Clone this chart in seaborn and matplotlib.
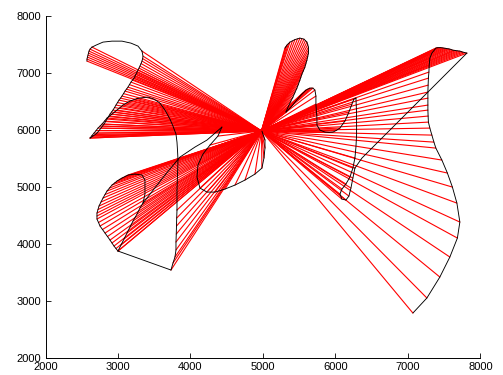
import matplotlib
matplotlib.use("Agg")
import matplotlib.pyplot as plt
import pandas as pd
import seaborn as sns

# common origin of all rays
center_x, center_y = 4980, 5985

# ---- outline pieces (x, y); pieces marked with rays get a red ray per vertex ----
upper_edge_x = [2572, 2572, 2579, 2586, 2593, 2600, 2614, 2641]
upper_edge_y = [7211, 7246, 7281, 7316, 7351, 7386, 7421, 7456]

upper_cap_x = [2641, 2697, 2793, 2917, 3055, 3179, 3276, 3331]
upper_cap_y = [7456, 7491, 7544, 7561, 7561, 7526, 7474, 7386]

upper_side_x = [3331, 3345, 3340, 3331, 3318, 3303, 3290, 3276, 3262, 3248,
                3235, 3221, 3200, 3179, 3158, 3138, 3117, 3097, 3076, 3055,
                3035, 3014, 2993, 2972, 2952, 2931, 2910, 2890, 2869, 2848,
                2828, 2807, 2786, 2765, 2738, 2710, 2683, 2655, 2635, 2614]
upper_side_y = [7386, 7298, 7255, 7211, 7167, 7123, 7088, 7053, 7018, 6982,
                6947, 6912, 6877, 6842, 6798, 6754, 6719, 6684, 6640, 6597,
                6561, 6526, 6483, 6439, 6395, 6351, 6316, 6281, 6237, 6193,
                6149, 6105, 6070, 6035, 5991, 5947, 5921, 5895, 5878, 5860]

arc_low_x = [2614, 2641, 2669, 2697, 2724, 2752, 2779, 2814, 2848, 2883,
             2917, 2952, 2986, 3028, 3069, 3117, 3166, 3214, 3262]
arc_low_y = [5860, 5904, 5947, 5991, 6035, 6070, 6105, 6158, 6211, 6246,
             6281, 6316, 6351, 6395, 6439, 6474, 6509, 6531, 6553]

arc_high_x = [3262, 3345, 3414, 3497, 3579, 3648, 3717, 3759, 3800, 3814, 3821,
              3828, 3821, 3814, 3814]
arc_high_y = [6553, 6570, 6579, 6544, 6474, 6351, 6193, 6070, 5930, 5789, 5649,
              5474, 5211, 4947, 4597]

stem_x = [3814, 3810, 3807, 3804, 3800, 3800, 3786, 3759, 3731]
stem_y = [4597, 4456, 4316, 4175, 4035, 3895, 3772, 3667, 3544]

base_x = [3731, 3000]
base_y = [3544, 3877]

lower_edge_x = [3000, 2972, 2945, 2917, 2890, 2855, 2821, 2786, 2752, 2731,
                2710, 2710, 2710, 2724, 2738, 2765, 2793, 2821, 2848, 2883,
                2917, 2952, 2986, 3020, 3055, 3097, 3138, 3186, 3234]
lower_edge_y = [3877, 3921, 3965, 4018, 4070, 4132, 4193, 4255, 4316, 4378,
                4439, 4492, 4544, 4606, 4667, 4737, 4807, 4869, 4930, 4983,
                5035, 5070, 5105, 5132, 5158, 5185, 5211, 5220, 5228]

lower_cap_x = [3234, 3331, 3372, 3372, 3372, 3345]
lower_cap_y = [5228, 5211, 5123, 5000, 4877, 4719]

spine_low_x = [3000, 3041, 3083, 3124, 3166, 3207, 3262, 3303, 3345]
spine_low_y = [3877, 3982, 4088, 4193, 4298, 4404, 4526, 4632, 4719]

spine_high_x = [3345, 3648, 3855, 4062, 4228, 4434]
spine_high_y = [4719, 5211, 5526, 5702, 5825, 6053]

bulb_x = [4434, 4379, 4269, 4172, 4103, 4090, 4131, 4228, 4338, 4476, 4614, 4752,
          4890, 4986, 5014, 5028, 5028, 4986]
bulb_y = [6053, 5895, 5737, 5579, 5386, 5175, 4982, 4912, 4912, 4965, 5035, 5123,
          5228, 5333, 5509, 5684, 5825, 5982]

tall_x = [5303, 5317, 5331, 5352, 5372, 5407, 5441, 5476, 5510, 5538,
          5566, 5587, 5607, 5618, 5628, 5628, 5628, 5618, 5607, 5593,
          5579, 5559, 5538, 5524, 5510, 5490, 5469, 5441, 5414, 5386,
          5359, 5338, 5317]
tall_y = [7439, 7465, 7491, 7518, 7544, 7566, 7588, 7601, 7614, 7605,
          7596, 7570, 7544, 7500, 7456, 7404, 7351, 7290, 7228, 7167,
          7105, 7044, 6982, 6930, 6877, 6807, 6737, 6658, 6579, 6509,
          6439, 6378, 6316]

loop_x = [5317, 5352, 5386, 5421, 5455, 5490, 5524, 5559, 5593, 5620,
          5648, 5669, 5690, 5717, 5731, 5731, 5738, 5745, 5745, 5786,
          5855, 5910, 5966, 6014, 6062, 6131, 6186, 6228, 6255, 6283]
loop_y = [6316, 6360, 6404, 6456, 6509, 6561, 6614, 6658, 6702, 6720,
          6737, 6737, 6737, 6702, 6597, 6456, 6316, 6211, 6088, 6000,
          5965, 5960, 5965, 5995, 6035, 6158, 6316, 6456, 6544, 6561]

post_x = [6283, 6290, 6292, 6292, 6283, 6269]
post_y = [6561, 6351, 6140, 5912, 5702, 5509]

hook_x = [6269, 6241, 6200, 6145, 6090, 6062, 6090, 6145, 6186, 6214, 6241, 6269]
hook_y = [5509, 5333, 5175, 5053, 4965, 4877, 4789, 4772, 4842, 4982, 5158, 5333]

brace_x = [6269, 6366, 6476, 6614, 7814]
brace_y = [5333, 5509, 5649, 5825, 7351]

wing_x = [7814, 7786, 7759, 7738, 7717, 7690, 7662, 7641, 7621, 7600,
          7579, 7559, 7538, 7517, 7497, 7476, 7455, 7434, 7414, 7400,
          7386, 7359, 7331, 7303, 7294, 7290, 7283, 7279, 7276, 7276,
          7276, 7276, 7279, 7283, 7303, 7331, 7359, 7386, 7469, 7545,
          7614, 7676, 7717, 7683, 7579, 7441, 7262, 7069]
wing_y = [7351, 7360, 7368, 7377, 7386, 7390, 7395, 7399, 7403, 7412,
          7421, 7426, 7430, 7435, 7439, 7443, 7447, 7447, 7447, 7443,
          7439, 7395, 7351, 7263, 7140, 7018, 6912, 6789, 6667, 6561,
          6439, 6351, 6246, 6140, 6035, 5912, 5789, 5684, 5474, 5246,
          5000, 4719, 4386, 4105, 3772, 3421, 3053, 2789]

pieces = [
    (upper_edge_x, upper_edge_y, True),
    (upper_cap_x, upper_cap_y, False),
    (upper_side_x, upper_side_y, True),
    (arc_low_x, arc_low_y, True),
    (arc_high_x, arc_high_y, False),
    (stem_x, stem_y, True),
    (base_x, base_y, False),
    (lower_edge_x, lower_edge_y, True),
    (lower_cap_x, lower_cap_y, False),
    (spine_low_x, spine_low_y, True),
    (spine_high_x, spine_high_y, False),
    (bulb_x, bulb_y, True),
    (tall_x, tall_y, True),
    (loop_x, loop_y, True),
    (post_x, post_y, False),
    (hook_x, hook_y, True),
    (brace_x, brace_y, False),
    (wing_x, wing_y, True),
]

x_ticks = [2000, 3000, 4000, 5000, 6000, 7000, 8000]
y_ticks = [2000, 3000, 4000, 5000, 6000, 7000, 8000]

# long-form tables: one unit per ray, one unit per outline piece
ray_rows, outline_rows = [], []
ray_id = 0
for piece_id, (xs, ys, with_rays) in enumerate(pieces):
    for x, y in zip(xs, ys):
        outline_rows.append({"piece": piece_id, "x": x, "y": y})
        if with_rays:
            ray_rows.append({"ray": ray_id, "x": center_x, "y": center_y})
            ray_rows.append({"ray": ray_id, "x": x, "y": y})
            ray_id += 1
rays = pd.DataFrame(ray_rows)
outline = pd.DataFrame(outline_rows)

sns.set_theme(style="ticks", rc={
    "xtick.direction": "in", "ytick.direction": "in",
    "xtick.major.size": 3.5, "ytick.major.size": 3.5,
    "xtick.major.width": 0.6, "ytick.major.width": 0.6,
    "axes.linewidth": 0.7, "axes.edgecolor": "black",
    "xtick.color": "black", "ytick.color": "black",
})
plt.rcParams["font.family"] = ["Liberation Sans", "DejaVu Sans"]

fig = plt.figure(figsize=(5.03, 3.75), dpi=100)
ax = fig.add_axes([0.0905, 0.0453, 0.8645, 0.9117])

sns.lineplot(data=rays, x="x", y="y", units="ray", estimator=None, sort=False,
             color="#ff0000", linewidth=0.8, ax=ax, legend=False)
sns.lineplot(data=outline, x="x", y="y", units="piece", estimator=None, sort=False,
             color="black", linewidth=0.65, ax=ax, legend=False)

ax.set_xlim(2000, 8000)
ax.set_ylim(2000, 8000)
ax.set_xticks(x_ticks)
ax.set_yticks(y_ticks)
ax.set_xticklabels([str(v) for v in x_ticks], fontsize=8)
ax.set_yticklabels([str(v) for v in y_ticks], fontsize=8)
ax.set_xlabel("")
ax.set_ylabel("")
ax.tick_params(axis="x", pad=3)
ax.tick_params(axis="y", pad=3)
sns.despine(ax=ax)

fig.savefig("out.png", dpi=100)
